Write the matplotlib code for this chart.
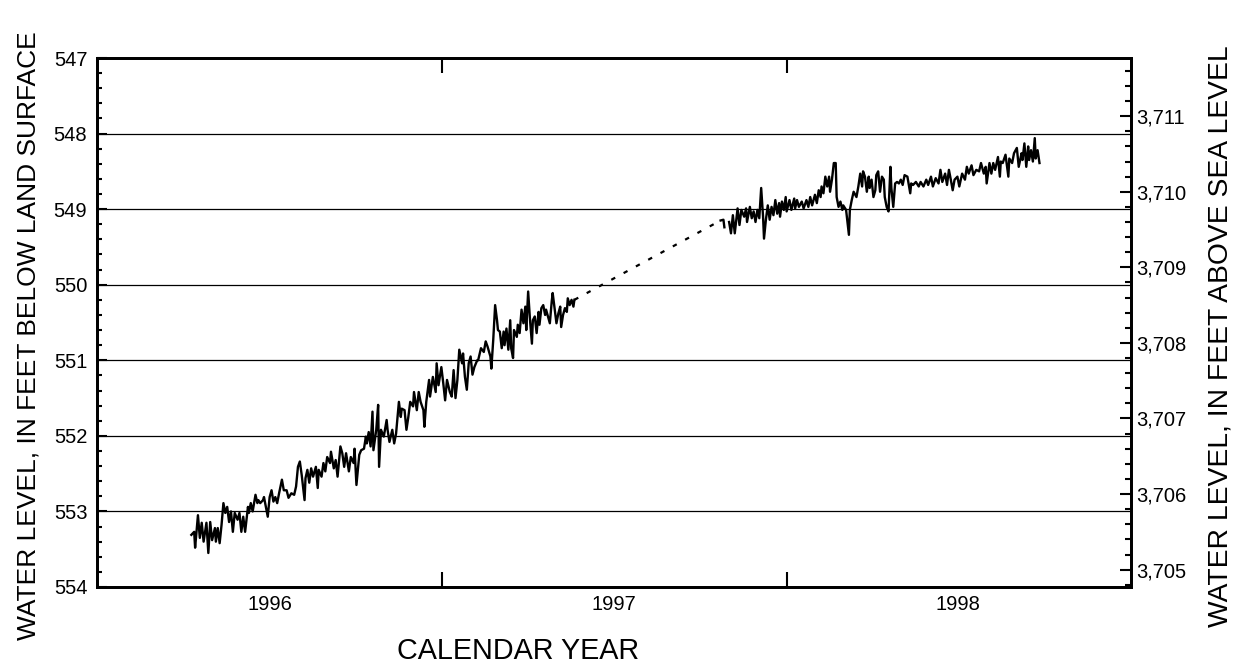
import matplotlib
matplotlib.use("Agg")
import numpy as np
from matplotlib import pyplot as plt
from matplotlib.ticker import MultipleLocator, FuncFormatter

plt.rcParams['font.family'] = ['Liberation Sans', 'DejaVu Sans']

# altitude of land surface at the well (feet above sea level)
LAND_SURFACE = 4258.77

# days counted from 1996-01-01, water level in feet below land surface
days_a = [100, 103, 104, 107, 109, 111, 113, 116, 118, 120, 122, 125, 126, 128, 130, 132, 134, 136, 138, 140,
          142, 144, 146, 149, 151, 153, 155, 157, 160, 161, 163, 165, 168, 170, 171, 173, 176, 177, 179, 181,
          183, 185, 187, 189, 191, 193, 196, 198, 201, 203, 206, 209, 211, 213, 215, 217, 220, 221, 223, 225,
          227, 229, 232, 234, 235, 238, 240, 242, 244, 247, 248, 251, 253, 255, 258, 260, 262, 264, 267, 269,
          272, 273, 275, 278, 280, 283, 285, 286, 288, 290, 292, 293, 296, 298, 299, 301, 304, 307, 308, 310,
          313, 315, 317, 320, 322, 323, 326, 328, 330, 332, 335, 336, 339, 341, 343, 346, 347, 349, 352, 353,
          356, 359, 360, 362, 365, 367, 369, 371, 374, 376, 378, 380, 382, 384, 387, 388, 390, 392, 394, 396,
          398, 400, 403, 404, 407, 410, 412, 414, 417, 418, 420, 422, 424, 425, 427, 429, 431, 432, 434, 436,
          438, 439, 441, 442, 445, 446, 448, 450, 452, 454, 455, 457, 459, 461, 462, 464, 466, 468, 469, 471,
          473, 475, 476, 478, 480, 482, 483, 485, 487, 489, 491, 492, 494, 496, 498, 499, 501, 503, 505, 506]
level_a = [553.31, 553.27, 553.48, 553.05, 553.35, 553.15, 553.40, 553.15, 553.55, 553.14,
           553.38, 553.22, 553.40, 553.22, 553.42, 553.18, 552.89, 553.02, 552.94, 553.14,
           553.00, 553.27, 553.02, 553.11, 553.02, 553.27, 553.07, 553.27, 552.94, 553.02,
           552.89, 553.00, 552.78, 552.89, 552.85, 552.89, 552.85, 552.81, 552.94, 553.07,
           552.81, 552.72, 552.87, 552.81, 552.89, 552.76, 552.58, 552.72, 552.72, 552.82,
           552.76, 552.78, 552.67, 552.41, 552.34, 552.52, 552.85, 552.56, 552.45, 552.62,
           552.43, 552.54, 552.41, 552.69, 552.45, 552.54, 552.36, 552.47, 552.28, 552.36,
           552.21, 552.43, 552.32, 552.54, 552.14, 552.23, 552.41, 552.23, 552.47, 552.28,
           552.36, 552.17, 552.65, 552.25, 552.19, 552.17, 552.01, 552.10, 551.95, 552.14,
           551.68, 552.19, 551.92, 551.59, 552.41, 551.92, 552.01, 551.79, 551.92, 552.08,
           551.92, 552.10, 551.97, 551.55, 551.75, 551.64, 551.66, 551.92, 551.75, 551.55,
           551.61, 551.42, 551.66, 551.42, 551.55, 551.66, 551.88, 551.55, 551.26, 551.48,
           551.22, 551.42, 551.04, 551.33, 551.09, 551.30, 551.53, 551.26, 551.42, 551.48,
           551.13, 551.50, 551.26, 550.86, 551.04, 550.91, 551.22, 551.39, 551.04, 550.95,
           551.19, 551.09, 551.00, 551.00, 550.84, 550.89, 550.75, 550.82, 550.95, 551.11,
           550.73, 550.27, 550.47, 550.60, 550.62, 550.84, 550.62, 550.80, 550.58, 550.86,
           550.47, 550.84, 550.97, 550.60, 550.69, 550.53, 550.64, 550.33, 550.51, 550.29,
           550.60, 550.09, 550.47, 550.78, 550.47, 550.42, 550.64, 550.36, 550.53, 550.31,
           550.27, 550.40, 550.33, 550.42, 550.51, 550.22, 550.11, 550.31, 550.51, 550.38,
           550.29, 550.56, 550.40, 550.31, 550.36, 550.18, 550.27, 550.20, 550.29, 550.20]

# short record just after the gap
days_b = [661, 664, 665]
level_b = [549.15, 549.14, 549.24]

days_c = [670, 672, 674, 676, 679, 681, 683, 686, 688, 689, 692, 694, 696, 698, 700, 702, 704, 706, 707, 709,
          711, 713, 715, 717, 719, 721, 723, 724, 726, 728, 730, 731, 734, 736, 739, 740, 742, 744, 747, 749,
          752, 754, 756, 758, 761, 763, 765, 767, 768, 770, 772, 774, 776, 777, 779, 781, 783, 784, 786, 788,
          790, 791, 794, 797, 798, 800, 802, 805, 807, 809, 811, 812, 814, 816, 818, 819, 821, 823, 825, 826,
          828, 830, 832, 834, 835, 837, 839, 841, 842, 844, 846, 848, 850, 852, 854, 856, 859, 862, 863, 865,
          868, 871, 873, 876, 879, 881, 884, 886, 889, 892, 894, 896, 899, 901, 903, 905, 907, 909, 912, 914,
          917, 920, 922, 924, 927, 929, 932, 935, 937, 940, 942, 943, 946, 948, 950, 952, 955, 957, 958, 960,
          963, 966, 967, 970, 972, 975, 977, 980, 981, 983, 985, 987, 988, 990, 992, 994, 995, 997, 999]
level_c = [549.17, 549.32, 549.08, 549.32, 548.99, 549.21, 549.01, 549.10, 548.99, 549.17,
           548.97, 549.12, 549.03, 549.17, 549.01, 549.12, 548.72, 549.10, 549.39, 549.14,
           548.95, 549.14, 548.97, 549.08, 548.88, 549.06, 548.92, 549.10, 548.90, 549.01,
           548.84, 549.03, 548.88, 549.01, 548.86, 548.99, 548.88, 548.97, 548.90, 548.99,
           548.88, 548.97, 548.84, 548.95, 548.81, 548.92, 548.75, 548.84, 548.70, 548.79,
           548.57, 548.70, 548.57, 548.77, 548.61, 548.39, 548.39, 548.84, 548.97, 548.90,
           549.01, 548.95, 549.01, 549.34, 549.01, 548.88, 548.77, 548.84, 548.70, 548.53,
           548.70, 548.50, 548.57, 548.77, 548.57, 548.72, 548.61, 548.84, 548.75, 548.55,
           548.50, 548.77, 548.57, 548.61, 548.84, 548.97, 549.03, 548.44, 548.72, 548.97,
           548.66, 548.64, 548.66, 548.61, 548.68, 548.55, 548.57, 548.79, 548.66, 548.68,
           548.64, 548.70, 548.64, 548.70, 548.61, 548.68, 548.57, 548.70, 548.59, 548.66,
           548.48, 548.64, 548.53, 548.68, 548.48, 548.61, 548.75, 548.61, 548.57, 548.70,
           548.53, 548.61, 548.44, 548.53, 548.42, 548.55, 548.48, 548.50, 548.39, 548.53,
           548.44, 548.66, 548.39, 548.53, 548.39, 548.48, 548.31, 548.57, 548.37, 548.39,
           548.28, 548.57, 548.33, 548.39, 548.26, 548.19, 548.44, 548.26, 548.35, 548.13,
           548.44, 548.17, 548.35, 548.22, 548.37, 548.06, 548.33, 548.22, 548.39]

year_starts = [366, 731]
year_mids = [183, 548, 913]
year_labels = ['1996', '1997', '1998']

fig = plt.figure(figsize=(12.36, 6.64), dpi=100)
ax = fig.add_axes([97/1236, 1-587/664, 1034/1236, 529/664])

# gridlines
for v in range(548, 554):
    ax.axhline(v, color='black', lw=0.9, zorder=1)

ax.plot(days_a, level_a, color='black', lw=1.7, zorder=3)
ax.plot(days_b, level_b, color='black', lw=1.7, zorder=3)
ax.plot(days_c, level_c, color='black', lw=1.7, zorder=3)
# estimated record across the gap
ax.plot([days_a[-1], days_b[0]], [level_a[-1], level_b[0]], color='black', lw=1.6,
        dashes=(2.0, 4.3), zorder=3)

ax.set_xlim(0, 1096)
ax.set_ylim(554, 547)

ax.set_xticks(year_starts)
ax.set_xticklabels([])
ax.set_xticks(year_mids, minor=True)
ax.set_xticklabels(year_labels, minor=True)
ax.tick_params(axis='x', which='major', direction='in', length=11, width=1.5, top=True)
ax.tick_params(axis='x', which='minor', length=0, pad=6, labelsize=14.5)

ax.yaxis.set_major_locator(MultipleLocator(1))
ax.yaxis.set_minor_locator(MultipleLocator(0.2))
ax.tick_params(axis='y', which='major', direction='in', length=7, width=1.5, labelsize=14.5, pad=7)
ax.tick_params(axis='y', which='minor', direction='in', length=3.5, width=1.5)

for s in ax.spines.values():
    s.set_linewidth(2)

ax2 = ax.twinx()
ax2.set_ylim(LAND_SURFACE - 554, LAND_SURFACE - 547)
ax2.yaxis.set_major_locator(MultipleLocator(1))
ax2.yaxis.set_minor_locator(MultipleLocator(0.2))
ax2.yaxis.set_major_formatter(FuncFormatter(lambda v, p: f"{v:,.0f}"))
ax2.tick_params(axis='y', which='major', direction='in', length=8, width=1.5, labelsize=14.5, pad=4)
ax2.tick_params(axis='y', which='minor', direction='in', length=4.5, width=1.5)
for s in ax2.spines.values():
    s.set_linewidth(2)

ax.set_xlabel('CALENDAR YEAR', fontsize=20.7, va='center')
ax.xaxis.set_label_coords(0.407, -0.121)
ax.set_ylabel('WATER LEVEL, IN FEET BELOW LAND SURFACE', fontsize=19)
ax.yaxis.set_label_coords(-0.055, 0.476)
ax2.set_ylabel('WATER LEVEL, IN FEET ABOVE SEA LEVEL', fontsize=20.3)
ax2.yaxis.set_label_coords(1.074, 0.474)

fig.savefig('out.png', dpi=100)
